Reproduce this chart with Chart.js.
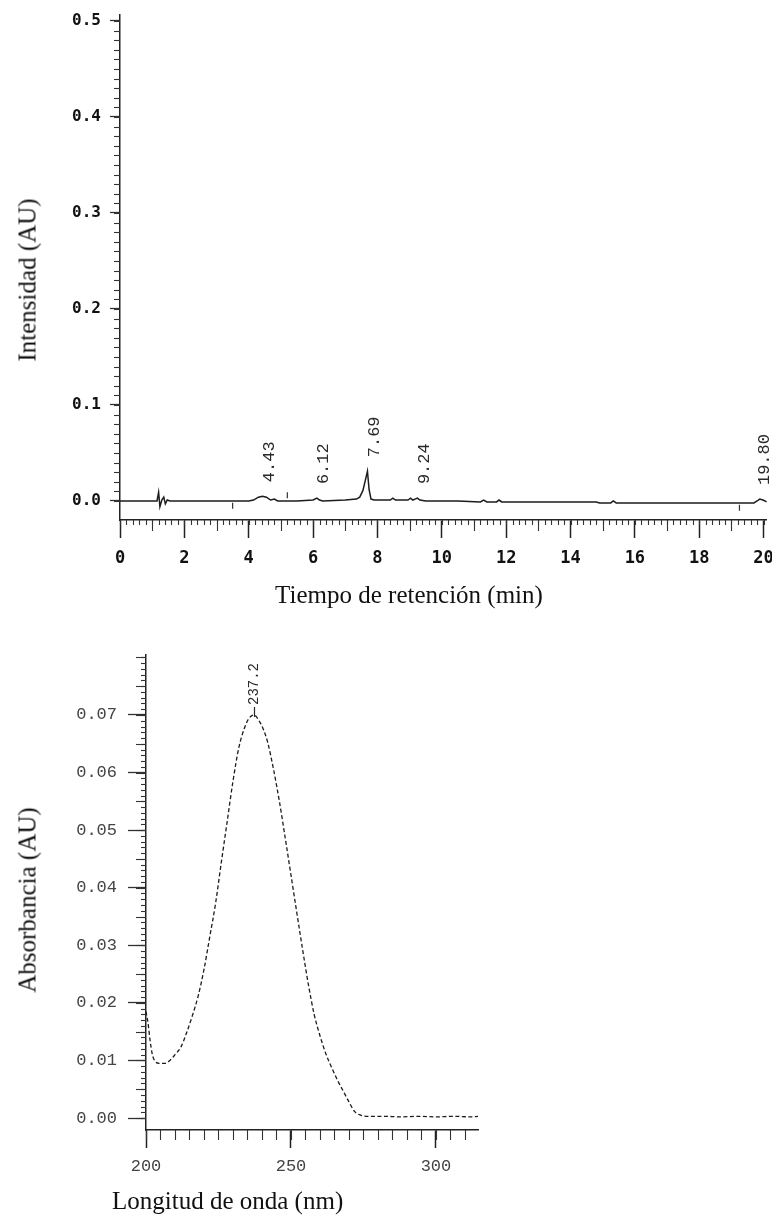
<!DOCTYPE html>
<html><head><meta charset="utf-8">
<script src="https://cdn.jsdelivr.net/npm/chart.js@4.4.0/dist/chart.umd.min.js"></script>
<style>
html,body{margin:0;padding:0;background:#fff;}
#wrap{position:relative;width:772px;height:1216px;overflow:hidden;background:#fff;}
.pane{position:absolute;left:0;}
.t{position:absolute;font-family:"Liberation Serif","Times New Roman",serif;font-size:25px;color:#111;white-space:nowrap;line-height:1;}
</style></head><body>
<div id="wrap">
  <div class="pane" style="top:0;width:772px;height:620px;"><canvas id="c1" width="772" height="620"></canvas></div>
  <div class="pane" style="top:620px;width:772px;height:596px;"><canvas id="c2" width="772" height="596"></canvas></div>
  <div class="t" style="left:27px;top:280px;transform:translate(-50%,-50%) rotate(-90deg);">Intensidad (AU)</div>
  <div class="t" style="left:409px;top:594px;transform:translate(-50%,-50%);">Tiempo de retención (min)</div>
  <div class="t" style="left:27px;top:900px;transform:translate(-50%,-50%) rotate(-90deg);">Absorbancia (AU)</div>
  <div class="t" style="left:112px;top:1200px;transform:translate(0,-50%);">Longitud de onda (nm)</div>
</div>
<script>
// ---------- Chromatogram (top) ----------
const chromTime = [0, 0.5, 1.0, 1.15, 1.2, 1.24, 1.3, 1.36, 1.41, 1.47, 1.55, 2.5, 3.5, 4.0, 4.15, 4.3, 4.43, 4.55, 4.68, 4.8, 4.9, 5.5, 6.0, 6.12, 6.2, 6.3, 7.0, 7.35, 7.45, 7.55, 7.62, 7.69, 7.74, 7.8, 7.9, 8.4, 8.48, 8.56, 8.95, 9.03, 9.1, 9.17, 9.24, 9.32, 9.5, 10.5, 11.2, 11.3, 11.4, 11.7, 11.78, 11.86, 13.0, 14.8, 14.9, 15.25, 15.33, 15.42, 17.0, 19.7, 19.8, 19.88, 19.98, 20.1];
const chromAU = [0, 0, 0, 0, 0.009, -0.006, 0.001, 0.004, -0.003, 0.001, 0, 0, 0, 0, 0.001, 0.004, 0.005, 0.004, 0.001, 0.002, 0, 0, 0.001, 0.003, 0.001, 0, 0.001, 0.002, 0.004, 0.011, 0.021, 0.031, 0.012, 0.002, 0.001, 0.001, 0.003, 0.001, 0.001, 0.003, 0.001, 0.002, 0.003, 0.001, 0, 0, -0.001, 0.001, -0.001, -0.001, 0.001, -0.001, -0.001, -0.001, -0.002, -0.002, 0, -0.002, -0.002, -0.002, 0, 0.002, 0.001, -0.001];
const peakTimes = [4.43, 6.12, 7.69, 9.24, 19.80];
const peakHeights = [0.005, 0.003, 0.031, 0.003, 0.002];
const peakTexts = ['4.43', '6.12', '7.69', '9.24', '19.80'];
const eventTimes = [3.5, 5.2, 19.25];
const eventAU = [-0.005, 0.006, -0.007];
const timeTicks = [0, 2, 4, 6, 8, 10, 12, 14, 16, 18, 20];
const intensityTicks = [0.0, 0.1, 0.2, 0.3, 0.4, 0.5];

// ---------- UV spectrum (bottom) ----------
const waveNm = [200, 200.7, 201.4, 202.2, 203.2, 204.5, 206.5, 208, 210, 212, 214, 216, 218, 220, 222, 224, 226, 228, 230, 232, 234, 235.5, 237.2, 239, 240.5, 242, 244, 246, 248, 250, 252, 254, 256, 258, 260, 262, 264, 266, 268, 270, 272, 274, 277, 282, 288, 294, 300, 306, 312, 314.5];
const absAU = [0.0185, 0.0165, 0.0135, 0.0110, 0.0098, 0.0095, 0.0095, 0.0099, 0.0110, 0.0123, 0.0148, 0.0178, 0.0212, 0.0258, 0.0315, 0.0373, 0.0445, 0.0515, 0.0585, 0.0643, 0.0678, 0.0694, 0.0700, 0.0690, 0.0675, 0.0652, 0.0605, 0.0550, 0.0487, 0.0422, 0.0357, 0.0293, 0.0232, 0.0180, 0.0143, 0.0112, 0.0088, 0.0066, 0.0047, 0.0028, 0.0011, 0.0005, 0.0003, 0.0003, 0.0002, 0.0003, 0.0002, 0.0003, 0.0002, 0.0003];
const specPeakNm = [237.2];
const specPeakAU = [0.0700];
const specPeakTexts = ['237.2'];
const waveTicks = [200, 250, 300];
const absTicks = [0.00, 0.01, 0.02, 0.03, 0.04, 0.05, 0.06, 0.07];

function rulerPlugin(cfg) {
  return {
    id: 'ruler',
    afterDraw(chart) {
      const ctx = chart.ctx, a = chart.chartArea;
      ctx.save();
      ctx.strokeStyle = cfg.color; ctx.lineWidth = cfg.width;
      (cfg.x || []).forEach(r => {
        const s = chart.scales.x;
        for (let i = 0; ; i++) {
          const v = r.from + i * r.step; if (v > r.to + 1e-9) break;
          const px = Math.round(s.getPixelForValue(v)) + 0.5;
          ctx.beginPath(); ctx.moveTo(px, a.bottom); ctx.lineTo(px, a.bottom + r.len); ctx.stroke();
        }
      });
      (cfg.y || []).forEach(r => {
        const s = chart.scales.y;
        for (let i = 0; ; i++) {
          const v = r.from + i * r.step; if (v > r.to + 1e-9) break;
          const py = Math.round(s.getPixelForValue(v)) + 0.5;
          ctx.beginPath(); ctx.moveTo(a.left, py); ctx.lineTo(a.left - r.len, py); ctx.stroke();
        }
      });
      ctx.restore();
    }
  };
}

function peakLabelPlugin(cfg) {
  return {
    id: 'peakLabels',
    afterDatasetsDraw(chart) {
      const ctx = chart.ctx, xs = chart.scales.x, ys = chart.scales.y;
      ctx.save();
      ctx.fillStyle = cfg.color; ctx.strokeStyle = cfg.color; ctx.font = cfg.font;
      cfg.times.forEach((t, i) => {
        const x = xs.getPixelForValue(t), y = ys.getPixelForValue(cfg.heights[i]);
        if (cfg.marker) {
          ctx.lineWidth = 1.2;
          ctx.beginPath(); ctx.moveTo(Math.round(x) + 0.5, y - cfg.marker); ctx.lineTo(Math.round(x) + 0.5, y + 2); ctx.stroke();
        }
        ctx.save();
        ctx.translate(x + cfg.dx, y - cfg.gap);
        ctx.rotate(-Math.PI / 2);
        ctx.textAlign = 'left'; ctx.textBaseline = 'middle';
        ctx.fillText(cfg.texts[i], 0, 0);
        ctx.restore();
      });
      ctx.restore();
    }
  };
}

function fixedTicks(arr) { return function (scale) { scale.ticks = arr.map(v => ({ value: v })); }; }

// ---------- top chart ----------
new Chart(document.getElementById('c1'), {
  type: 'line',
  data: {
    datasets: [{
      data: chromTime.map((t, i) => ({ x: t, y: chromAU[i] })),
      borderColor: '#1c1c1c', borderWidth: 1.5, pointRadius: 0, tension: 0, fill: false
    }, {
      data: eventTimes.map((t, i) => ({ x: t, y: eventAU[i] })),
      showLine: false, pointStyle: 'line', rotation: 90,
      borderColor: '#333', borderWidth: 1.2, pointRadius: 3
    }]
  },
  options: {
    responsive: false, animation: false,
    layout: { padding: { top: 15, right: 3, left: 0, bottom: 0 } },
    plugins: { legend: { display: false }, tooltip: { enabled: false } },
    scales: {
      x: {
        type: 'linear', min: 0, max: 20.1,
        afterBuildTicks: fixedTicks(timeTicks),
        afterFit(s) { s.height = 100; s.paddingLeft = 0; s.paddingRight = 0; },
        border: { display: true, color: '#222', width: 1.5 },
        grid: { drawOnChartArea: false, drawTicks: true, tickLength: 18, tickColor: '#222', tickWidth: 1.5 },
        ticks: { autoSkip: false, maxRotation: 0, padding: 10, color: '#111',
          font: { family: '"DejaVu Sans Mono", monospace', weight: 'bold', size: 17 },
          callback: v => String(v) }
      },
      y: {
        type: 'linear', min: -0.0198, max: 0.50625,
        afterBuildTicks: fixedTicks(intensityTicks),
        afterFit(s) { s.width = 120; s.paddingTop = 0; s.paddingBottom = 0; },
        border: { display: true, color: '#222', width: 1.5 },
        grid: { drawOnChartArea: false, drawTicks: true, tickLength: 10, tickColor: '#333', tickWidth: 1.3 },
        ticks: { padding: 9, color: '#111',
          font: { family: '"DejaVu Sans Mono", monospace', weight: 'bold', size: 16 },
          callback: v => Number(v).toFixed(1) }
      }
    }
  },
  plugins: [
    rulerPlugin({ color: '#333', width: 1.1,
      x: [{ from: 0, to: 20.1, step: 0.2, len: 5 }, { from: 1, to: 20, step: 2, len: 11 }],
      y: [{ from: 0, to: 0.5, step: 0.01, len: 6 }] }),
    peakLabelPlugin({ times: peakTimes, heights: peakHeights, texts: peakTexts,
      color: '#2a2a2a', font: '17px "Liberation Mono", monospace', dx: 7, gap: 14, marker: 0 })
  ]
});

// ---------- bottom chart ----------
new Chart(document.getElementById('c2'), {
  type: 'line',
  data: {
    datasets: [{
      data: waveNm.map((w, i) => ({ x: w, y: absAU[i] })),
      borderColor: '#1c1c1c', borderWidth: 1.3, borderDash: [4, 2.5],
      pointRadius: 0, cubicInterpolationMode: 'monotone', fill: false
    }]
  },
  options: {
    responsive: false, animation: false,
    layout: { padding: { top: 35, right: 294, left: 0, bottom: 0 } },
    plugins: { legend: { display: false }, tooltip: { enabled: false } },
    scales: {
      x: {
        type: 'linear', min: 200, max: 314.5,
        afterBuildTicks: fixedTicks(waveTicks),
        afterFit(s) { s.height = 86; s.paddingLeft = 0; s.paddingRight = 0; },
        border: { display: true, color: '#222', width: 1.5 },
        grid: { drawOnChartArea: false, drawTicks: true, tickLength: 18, tickColor: '#222', tickWidth: 1.5 },
        ticks: { autoSkip: false, maxRotation: 0, padding: 8, color: '#444',
          font: { family: '"Liberation Mono", monospace', size: 17 },
          callback: v => String(v) }
      },
      y: {
        type: 'linear', min: -0.00208, max: 0.08042,
        afterBuildTicks: fixedTicks(absTicks),
        afterFit(s) { s.width = 146; s.paddingTop = 0; s.paddingBottom = 0; },
        border: { display: true, color: '#222', width: 1.5 },
        grid: { drawOnChartArea: false, drawTicks: true, tickLength: 18, tickColor: '#333', tickWidth: 1.3 },
        ticks: { padding: 11, color: '#444',
          font: { family: '"Liberation Mono", monospace', size: 17 },
          callback: v => Number(v).toFixed(2) }
      }
    }
  },
  plugins: [
    rulerPlugin({ color: '#333', width: 1.1,
      x: [{ from: 200, to: 314, step: 5, len: 10 }],
      y: [{ from: 0, to: 0.08, step: 0.001, len: 5 }, { from: 0, to: 0.08, step: 0.005, len: 10 }] }),
    peakLabelPlugin({ times: specPeakNm, heights: specPeakAU, texts: specPeakTexts,
      color: '#2a2a2a', font: '14px "Liberation Mono", monospace', dx: 0, gap: 10, marker: 8 })
  ]
});
</script>
</body></html>
